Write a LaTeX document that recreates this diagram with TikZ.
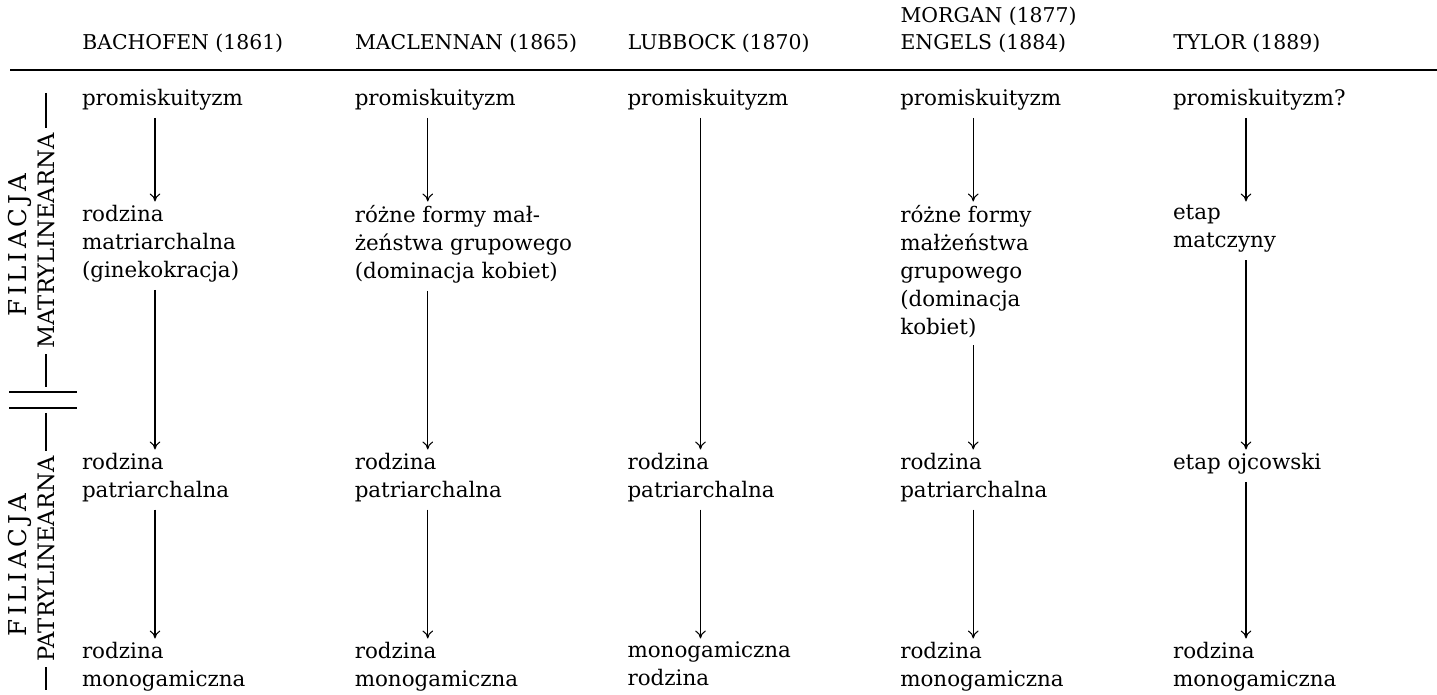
\documentclass[tikz,border=0pt]{standalone}
\usepackage{fontspec}
\setmainfont{DejaVu Serif}
\usetikzlibrary{
    arrows.meta,
    positioning
}
\tikzset{
    entry/.style={anchor=north west, align=left, inner sep=0pt, outer sep=0pt,
        font=\fontsize{12.2}{15.94}\selectfont},
    heading/.style={anchor=base west, inner sep=0pt, font=\fontsize{11.6}{14}\selectfont},
    side/.style={rotate=90, inner sep=3pt, font=\fontsize{12.9}{14}\selectfont},
    sidebig/.style={rotate=90, inner sep=0pt,
        font=\fontsize{14}{16}\selectfont\addfontfeature{LetterSpace=15}},
    trend/.style={-{To[length=4.5pt,width=6pt]}, line width=0.6pt,
        shorten <=4.5pt, shorten >=2pt},
    rule/.style={line width=0.7pt}
}

\begin{document}
\begin{tikzpicture}[x=0.02cm, y=-0.02cm]
    \useasboundingbox (0,0) rectangle (1437,695);
    % naglowki
    \node[heading] (h1) at (82,50) {BACHOFEN (1861)};
    \node[heading] (h2) at (354.75,50) {MACLENNAN (1865)};
    \node[heading] (h3) at (627.5,50) {LUBBOCK (1870)};
    \node[heading] (h4a) at (900.25,23) {MORGAN (1877)};
    \node[heading] (h4) at (900.25,50) {ENGELS (1884)};
    \node[heading] (h5) at (1173,50) {TYLOR (1889)};
    \coordinate (rl) at (10,70);
    \coordinate (rr) at (1437,70);
    \draw[rule] (rl) -- (rr);
    % lewy margines
    \node[sidebig] (fil1) at (20,245) {FILIACJA};
    \node[side] (mat) at (46,241) {MATRYLINEARNA};
    \node[sidebig] (fil2) at (20,565) {FILIACJA};
    \node[side] (pat) at (46,559) {PATRYLINEARNA};
    \coordinate (mt) at (46,93);
    \coordinate (mb) at (46,387);
    \coordinate (pt) at (46,413);
    \coordinate (pb) at (46,690);
    \draw[rule]
    (mt) -- (mat.east -| mt)
    (mat.west -| mb) -- (mb)
    (pt) -- (pat.east -| pt)
    (pat.west -| pb) -- (pb);
    \coordinate (d1l) at (9,392);
    \coordinate (d1r) at (77,392);
    \coordinate (d2l) at (9,408);
    \coordinate (d2r) at (77,408);
    \draw[rule] (d1l) -- (d1r) (d2l) -- (d2r);
    % kolumna 1
    \begin{scope}[shift={(82,0)}]
        \coordinate (c1) at (73,0);
        \node[entry] (p1) at (0,89) {promiskuityzm};
        \node[entry] (m1) at (0,205) {rodzina\\matriarchalna\\(ginekokracja)};
        \node[entry] (o1) at (0,453) {rodzina\\patriarchalna};
        \node[entry] (r1) at (0,642) {rodzina\\monogamiczna};
        \draw[trend] (p1.south -| c1) -- (m1.north -| c1);
        \draw[trend] (m1.south -| c1) -- (o1.north -| c1);
        \draw[trend] (o1.south -| c1) -- (r1.north -| c1);
    \end{scope}
    % kolumna 2
    \begin{scope}[shift={(354.75,0)}]
        \coordinate (c2) at (73,0);
        \node[entry] (p2) at (0,89) {promiskuityzm};
        \node[entry] (m2) at (0,205) {różne formy mał-\\żeństwa grupowego\\(dominacja kobiet)};
        \node[entry] (o2) at (0,453) {rodzina\\patriarchalna};
        \node[entry] (r2) at (0,642) {rodzina\\monogamiczna};
        \draw[trend] (p2.south -| c2) -- (m2.north -| c2);
        \draw[trend] (m2.south -| c2) -- (o2.north -| c2);
        \draw[trend] (o2.south -| c2) -- (r2.north -| c2);
    \end{scope}
    % kolumna 3
    \begin{scope}[shift={(627.5,0)}]
        \coordinate (c3) at (73,0);
        \node[entry] (p3) at (0,89) {promiskuityzm};
        \node[entry] (o3) at (0,453) {rodzina\\patriarchalna};
        \node[entry] (r3) at (0,642) {monogamiczna\\rodzina};
        \draw[trend] (p3.south -| c3) -- (o3.north -| c3);
        \draw[trend] (o3.south -| c3) -- (r3.north -| c3);
    \end{scope}
    % kolumna 4
    \begin{scope}[shift={(900.25,0)}]
        \coordinate (c4) at (73,0);
        \node[entry] (p4) at (0,89) {promiskuityzm};
        \node[entry] (m4) at (0,205) {różne formy\\małżeństwa\\grupowego\\(dominacja\\kobiet)};
        \node[entry] (o4) at (0,453) {rodzina\\patriarchalna};
        \node[entry] (r4) at (0,642) {rodzina\\monogamiczna};
        \draw[trend] (p4.south -| c4) -- (m4.north -| c4);
        \draw[trend] (m4.south -| c4) -- (o4.north -| c4);
        \draw[trend] (o4.south -| c4) -- (r4.north -| c4);
    \end{scope}
    % kolumna 5
    \begin{scope}[shift={(1173,0)}]
        \coordinate (c5) at (73,0);
        \node[entry] (p5) at (0,89) {promiskuityzm?};
        \node[entry] (m5) at (0,205) {etap\\matczyny};
        \node[entry] (o5) at (0,453) {etap ojcowski};
        \node[entry] (r5) at (0,642) {rodzina\\monogamiczna};
        \draw[trend] (p5.south -| c5) -- (m5.north -| c5);
        \draw[trend] (m5.south -| c5) -- (o5.north -| c5);
        \draw[trend] (o5.south -| c5) -- (r5.north -| c5);
    \end{scope}
\end{tikzpicture}
\end{document}
